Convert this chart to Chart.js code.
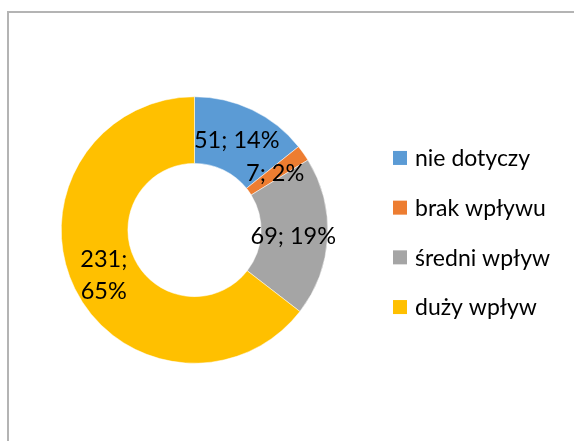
<!DOCTYPE html>
<html lang="pl">
<head>
<meta charset="utf-8">
<title>Wpływ</title>
<script src="https://cdn.jsdelivr.net/npm/chart.js@4.4.1/dist/chart.umd.min.js"></script>
<style>
  html, body { margin: 0; padding: 0; background: #fff; overflow: hidden; }
  #wrap { position: relative; width: 574px; height: 441px; }
  #frame {
    position: absolute; left: 7px; top: 11px; width: 600px; height: 500px;
    border: 2px solid #b4b4b4; box-sizing: border-box;
  }
  #chart { position: absolute; left: 0; top: 0; }
</style>
</head>
<body>
<div id="wrap">
  <div id="frame"></div>
  <canvas id="chart" width="574" height="441"></canvas>
</div>
<script>
const categories = ["nie dotyczy", "brak wpływu", "średni wpływ", "duży wpływ"];
const counts = [51, 7, 69, 231];
const sliceColors = ["#5B9BD5", "#ED7D31", "#A5A5A5", "#FFC000"];
// these slices get their label split onto two lines
const wrappedLabels = ["duży wpływ"];

const FONT = "Lato, 'Open Sans', sans-serif";
const total = counts.reduce((a, b) => a + b, 0);

// "value; percent" inside each slice
const sliceLabels = {
  id: "sliceLabels",
  afterDatasetsDraw(chart) {
    const { ctx } = chart;
    const meta = chart.getDatasetMeta(0);
    ctx.save();
    ctx.font = "23.5px " + FONT;
    ctx.fillStyle = "#000";
    ctx.textAlign = "center";
    ctx.textBaseline = "middle";
    meta.data.forEach((arc, i) => {
      const { x, y } = arc.tooltipPosition();
      const pct = Math.round((counts[i] / total) * 100) + "%";
      const lines = wrappedLabels.includes(categories[i])
        ? [counts[i] + ";", pct]
        : [counts[i] + "; " + pct];
      const lh = 32;
      lines.forEach((line, j) => {
        ctx.fillText(line, x - 1, y + 1 + (j - (lines.length - 1) / 2) * lh);
      });
    });
    ctx.restore();
  },
};

// legend column on the right
const sideLegend = {
  id: "sideLegend",
  afterDraw(chart) {
    const { ctx, chartArea } = chart;
    const cy = (chartArea.top + chartArea.bottom) / 2;
    const boxX = chartArea.right + 65;
    const box = 14;
    const rowGap = 49.7;
    ctx.save();
    ctx.font = "23px " + FONT;
    ctx.textBaseline = "middle";
    ctx.textAlign = "left";
    categories.forEach((name, i) => {
      const y = cy + 2.5 + (i - 1.5) * rowGap;
      ctx.fillStyle = sliceColors[i];
      ctx.fillRect(boxX, y - box / 2, box, box);
      ctx.fillStyle = "#000";
      ctx.fillText(name, boxX + 22, y + 1);
    });
    ctx.restore();
  },
};

new Chart(document.getElementById("chart"), {
  type: "doughnut",
  data: {
    labels: categories,
    datasets: [
      {
        data: counts,
        backgroundColor: sliceColors,
        borderColor: "#ffffff",
        borderWidth: 0.5,
      },
    ],
  },
  options: {
    responsive: false,
    animation: false,
    cutout: "50%",
    layout: { padding: { left: 61, top: 96, right: 246, bottom: 77 } },
    plugins: {
      legend: { display: false },
      tooltip: { enabled: false },
    },
  },
  plugins: [sliceLabels, sideLegend],
});
</script>
</body>
</html>
